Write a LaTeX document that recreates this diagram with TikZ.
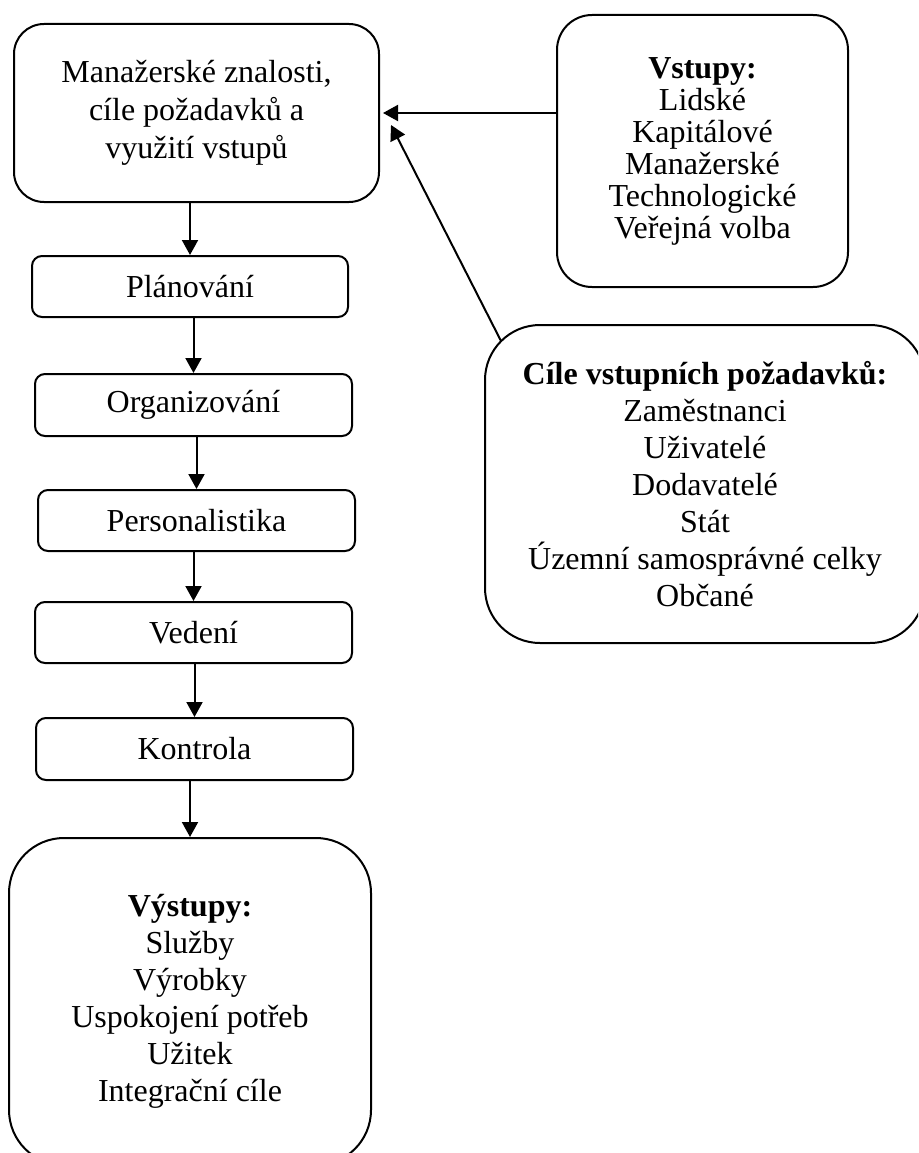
\documentclass[tikz,border=0pt]{standalone}
\usepackage{fontspec}
\setmainfont{Liberation Serif}
\usetikzlibrary{arrows.meta,calc}

\begin{document}
\begin{tikzpicture}[x=1pt,y=-1pt,
    box/.style={draw,line width=2pt,rounded corners=#1,align=center,
      inner sep=0pt,font=\fontsize{32}{37}\selectfont},
    box/.default=10pt,
    arr/.style={line width=2pt,-{Triangle[length=15pt,width=16pt]}}]
    \useasboundingbox (0,0) rectangle (918,1153);
    \clip (0,0) rectangle (918,1153);
    % left column
    \node[box=30pt,minimum width=365pt,minimum height=178pt,
        font=\fontsize{32}{38}\selectfont] (manag) at (196.5,113)
        {Manažerské znalosti,\\cíle požadavků a\\využití vstupů};
    \node[box,minimum width=316pt,minimum height=61pt] (plan) at (190,286.5) {Plánování};
    \node[box,minimum width=317pt,minimum height=62pt] (org) at (193.5,405) {Organizování};
    \node[box,minimum width=317pt,minimum height=61pt] (pers) at (196.5,520.5) {Personalistika};
    \node[box,minimum width=317pt,minimum height=61pt] (ved) at (193.5,632.5) {Vedení};
    \node[box,minimum width=317pt,minimum height=62pt] (kontr) at (194.5,749) {Kontrola};
    \node[box=55pt,minimum width=362pt,minimum height=327pt] (vyst) at (190,1001.5)
        {\textbf{Výstupy:}\\Služby\\Výrobky\\Uspokojení potřeb\\Užitek\\Integrační cíle};
    % right column
    \node[box=35pt,minimum width=291pt,minimum height=272pt,
        font=\fontsize{32}{32}\selectfont] (vstup) at (702.5,151)
        {\textbf{Vstupy:}\\Lidské\\Kapitálové\\Manažerské\\Technologické\\Veřejná volba};
    \node[box=55pt,minimum width=440pt,minimum height=318pt] (cile) at (705,484)
        {\textbf{Cíle vstupních požadavků:}\\Zaměstnanci\\Uživatelé\\Dodavatelé\\Stát\\Územní samosprávné celky\\Občané};
    \draw[arr] (plan.north |- manag.south) -- (plan.north);
    \draw[arr] (org.north |- plan.south) -- (org.north);
    \draw[arr] (pers.north |- org.south) -- (pers.north);
    \draw[arr] (ved.north |- pers.south) -- (ved.north);
    \draw[arr] (kontr.north |- ved.south) -- (kontr.north);
    \draw[arr] (vyst.north |- kontr.south) -- (vyst.north);
    \draw[arr,shorten >=3pt] (vstup.west |- manag.east) -- (manag.east);
    \coordinate (cile out) at ($(cile.north west)+(17,17)$);
    \coordinate (manag in) at ($(manag.east)+(11,12)$);
    \draw[arr] (cile out) -- (manag in);
\end{tikzpicture}
\end{document}
